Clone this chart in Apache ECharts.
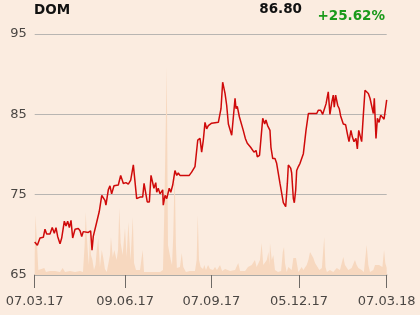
<!DOCTYPE html>
<html>
<head>
<meta charset="utf-8">
<script src="https://cdn.jsdelivr.net/npm/echarts@6/dist/echarts.min.js"></script>
<style>
html,body{margin:0;padding:0;background:#fbece0;}
#c{width:420px;height:315px;}
</style>
</head>
<body>
<div id="c"></div>
<script>
// ---- data ----
const ticker = 'DOM';
const lastPrice = '86.80';
const change = '+25.62%';
const tickLabels = ['07.03.17', '09.06.17', '07.09.17', '05.12.17', '07.03.18'];
const tickDays = [0, 65, 127, 190, 253];
const totalDays = 254;
const yTicks = [65, 75, 85, 95];

// trading-day index and closing price
const priceDay = [0.0,1.9,3.8,6.2,7.4,8.6,11.0,12.6,14.1,15.3,16.5,18.2,19.4,21.3,22.5,23.7,24.9,26.1,27.3,29.0,31.3,32.6,33.8,34.9,38.5,40.2,41.2,42.1,44.6,46.4,48.2,50.5,51.2,52.9,54.1,55.3,57.0,60.1,61.8,63.7,65.6,67.3,69.0,70.9,72.1,73.3,75.7,77.6,78.6,80.0,80.9,82.4,83.6,84.8,85.7,87.0,87.7,88.8,90.1,92.0,92.4,93.7,94.9,96.7,97.8,99.2,100.8,102.1,103.2,104.4,111.1,112.8,115.2,117.2,118.8,120.0,121.2,122.4,123.6,124.8,126.0,127.2,132.0,133.9,135.1,136.8,138.0,139.2,141.6,142.7,144.0,144.7,145.6,147.1,148.3,149.9,151.4,152.8,154.2,155.2,156.4,157.6,159.1,160.0,161.6,162.6,163.9,165.3,166.2,167.4,169.1,169.8,171.1,172.7,173.9,175.1,176.3,177.5,178.7,180.4,181.6,182.3,184.0,184.7,185.9,186.6,187.6,188.3,189.5,190.7,191.9,193.1,195.0,196.7,202.7,203.8,205.6,207.0,208.2,209.4,211.0,212.2,213.5,214.6,215.3,216.3,217.8,218.9,219.9,221.8,223.5,224.7,225.9,227.3,228.3,229.5,230.9,231.9,232.9,233.8,235.0,236.2,237.4,238.6,239.8,241.0,242.2,243.4,244.1,245.3,246.3,247.5,248.7,249.9,251.1,253.0];
const priceVal = [69.1,68.7,69.6,69.7,70.7,70.1,70.1,70.9,70.2,70.9,69.8,68.9,69.6,71.7,71.1,71.7,70.9,71.8,69.6,70.7,70.8,70.5,69.8,70.4,70.3,70.5,68.1,69.8,71.6,72.9,74.9,74.3,73.7,75.6,76.1,75.1,76.1,76.2,77.4,76.4,76.5,76.3,76.8,78.7,78.7,74.5,74.7,74.7,76.4,76.6,74.1,74.1,77.4,77.2,75.8,76.5,75.3,75.8,75.1,75.6,73.7,74.9,74.5,75.8,75.3,76.2,78.0,77.4,77.7,77.4,77.4,77.8,78.5,81.8,82.0,80.3,81.8,84.0,83.2,83.6,83.4,83.9,84.0,85.7,89.0,87.6,86.1,83.8,82.4,82.6,87.0,85.7,86.0,84.7,84.5,83.0,82.0,81.4,81.6,80.9,81.1,80.3,80.5,79.7,79.9,80.0,84.5,83.8,84.3,83.6,83.0,80.9,79.5,79.5,78.9,78.7,76.4,76.2,74.0,73.5,76.4,78.7,78.3,77.7,74.5,74.0,75.6,78.0,78.5,78.9,78.7,80.1,83.0,85.1,85.1,85.5,85.5,85.0,85.1,86.3,87.8,85.0,86.5,87.4,85.9,87.4,86.1,85.7,84.8,83.8,83.7,82.6,81.6,83.0,82.2,81.6,82.0,80.7,83.0,82.8,81.6,84.9,88.0,88.0,87.6,87.0,87.0,85.1,87.0,82.0,84.5,84.0,84.9,84.7,84.4,86.8];

// trading-day index and volume (relative units)
const volDay = [0.0,0.6,1.4,2.6,3.8,6.9,8.1,11.0,14.6,18.2,20.1,21.8,25.4,29.0,32.6,34.7,35.9,36.7,37.4,38.3,39.0,39.7,40.4,41.5,42.6,43.7,44.6,45.7,46.9,48.2,49.3,50.5,51.8,52.9,54.1,54.8,56.1,57.2,58.9,59.9,60.8,61.8,63.2,64.9,66.1,67.3,68.9,70.5,71.4,72.8,75.7,77.6,78.6,81.5,86.5,90.1,92.2,93.1,94.9,95.8,96.7,97.8,98.7,99.6,100.6,101.5,102.2,104.4,105.7,106.8,108.7,111.6,115.2,116.4,117.2,118.1,119.3,121.0,121.9,123.1,124.6,126.0,128.2,129.6,131.0,133.2,134.7,136.9,140.5,144.0,146.3,147.6,149.0,151.2,153.3,156.0,158.3,159.5,161.9,163.1,164.3,166.8,168.0,168.7,169.1,170.4,171.5,172.7,174.9,177.1,178.3,179.2,179.9,181.1,182.3,183.5,184.7,185.9,187.8,189.5,190.7,191.9,193.1,195.5,196.7,197.9,199.1,200.3,201.5,202.7,204.6,206.4,208.1,209.0,210.0,212.2,214.6,217.1,219.4,221.8,223.0,225.4,227.8,230.2,231.4,232.6,235.0,236.6,238.6,239.8,241.0,243.4,244.6,245.8,247.5,249.9,251.1,252.0,253.0];
const volVal = [20,60,60,5,4,7,3,4,4,3,7,3,4,3,4,3,30,63,40,20,10,43,20,15,5,10,25,37,8,25,17,6,3,5,20,38,18,25,15,25,67,32,20,47,18,53,15,58,12,5,5,25,3,3,3,3,5,60,208,30,23,15,10,40,105,30,7,8,22,8,3,4,4,15,60,15,8,6,10,5,10,6,5,8,5,10,4,6,4,5,12,4,6,4,8,10,15,8,15,32,10,15,23,10,32,15,20,5,3,4,23,28,12,3,8,10,5,17,17,3,5,8,5,10,15,23,22,17,12,10,5,7,38,8,3,5,3,7,5,18,10,5,7,15,10,7,5,3,30,10,3,5,10,8,10,8,25,12,7];

// ---- chart ----
const cats = Array.from({length: totalDays}, () => '');
tickDays.forEach((d, i) => { cats[d] = tickLabels[i]; });
const isTick = (idx) => tickDays.indexOf(idx) >= 0;

const chart = echarts.init(document.getElementById('c'), null, {renderer: 'canvas'});
const font = 'DejaVu Sans';
chart.setOption({
  backgroundColor: '#fbece0',
  animation: false,
  grid: {left: 34.7, right: 33.3, top: 34, bottom: 40, outerBoundsMode: 'none'},
  graphic: [
    {type: 'text', left: 34, top: 3, style: {text: ticker, font: 'bold 13.5px "DejaVu Sans"', fill: '#111'}},
    {type: 'text', right: 118, top: 2, style: {text: lastPrice, font: 'bold 13.5px "DejaVu Sans"', fill: '#111'}},
    {type: 'text', right: 35, top: 9, style: {text: change, font: 'bold 13.5px "DejaVu Sans"', fill: '#1a9a1a'}}
  ],
  xAxis: [
    {
      type: 'category', data: cats, boundaryGap: false,
      axisLine: {show: true, lineStyle: {color: '#a8a6a3', width: 1.5}},
      axisTick: {show: true, interval: (i) => isTick(i), length: 13, lineStyle: {color: '#6e6a66', width: 1}},
      axisLabel: {interval: (i) => isTick(i), margin: 20, fontSize: 13, fontFamily: font, color: '#4a4643'},
      splitLine: {show: false}
    },
    {type: 'value', min: 0, max: totalDays - 1, show: false}
  ],
  yAxis: [
    {
      type: 'value', min: yTicks[0], max: yTicks[yTicks.length - 1], interval: 10,
      axisLine: {show: false}, axisTick: {show: false},
      axisLabel: {margin: 8, fontSize: 13, fontFamily: font, color: '#4a4643'},
      splitLine: {show: true, lineStyle: {color: '#b8b5b2', width: 1}}
    },
    {type: 'value', min: 0, max: 241, show: false}
  ],
  series: [
    {
      type: 'line', xAxisIndex: 1, yAxisIndex: 1,
      data: volDay.map((d, i) => [d, volVal[i]]),
      symbol: 'none', lineStyle: {width: 0},
      areaStyle: {color: '#f7d8bf', opacity: 1}, z: 1
    },
    {
      type: 'line', xAxisIndex: 1, yAxisIndex: 0,
      data: priceDay.map((d, i) => [d, priceVal[i]]),
      symbol: 'none', lineStyle: {color: '#cf0a0a', width: 1.5}, z: 3
    }
  ]
});
</script>
</body>
</html>
